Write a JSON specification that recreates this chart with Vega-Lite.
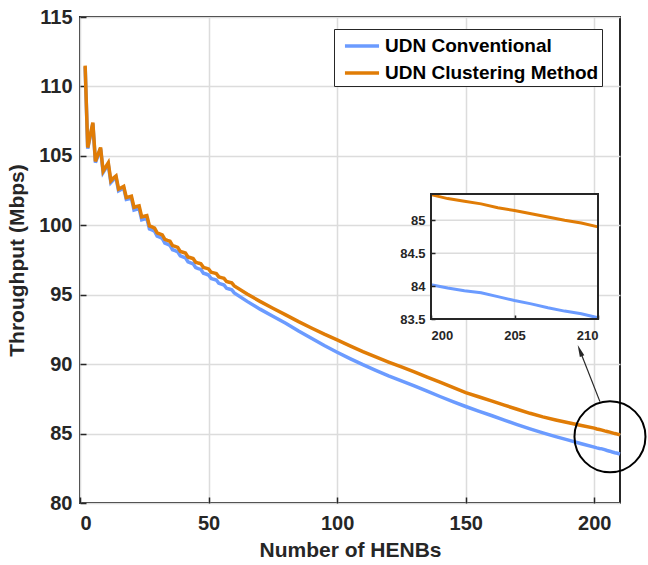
{
  "$schema": "https://vega.github.io/schema/vega-lite/v6.json",
  "autosize": {"type": "none"},
  "width": 540,
  "height": 486,
  "padding": {"left": 80, "top": 17, "right": 28, "bottom": 62},
  "background": "white",
  "config": {
    "font": "Liberation Sans",
    "view": {"stroke": "#262626", "strokeWidth": 2},
    "axis": {
      "labelFont": "Liberation Sans",
      "labelFontWeight": "bold",
      "labelColor": "#262626",
      "titleFont": "Liberation Sans",
      "titleColor": "#262626",
      "titleFontWeight": "bold",
      "tickColor": "#262626",
      "tickWidth": 1.5,
      "gridColor": "#dcdcdc",
      "gridWidth": 1.5
    }
  },
  "data": {
    "values": [
      {"x": 2, "UDN Conventional": 111.42, "UDN Clustering Method": 111.5},
      {"x": 3, "UDN Conventional": 105.52, "UDN Clustering Method": 105.6},
      {"x": 4, "UDN Conventional": 106.42, "UDN Clustering Method": 106.5},
      {"x": 5, "UDN Conventional": 107.32, "UDN Clustering Method": 107.4},
      {"x": 6, "UDN Conventional": 104.52, "UDN Clustering Method": 104.6},
      {"x": 7, "UDN Conventional": 105.02, "UDN Clustering Method": 105.1},
      {"x": 8, "UDN Conventional": 105.52, "UDN Clustering Method": 105.6},
      {"x": 9, "UDN Conventional": 103.8, "UDN Clustering Method": 103.9},
      {"x": 10, "UDN Conventional": 104.1, "UDN Clustering Method": 104.2},
      {"x": 11, "UDN Conventional": 104.38, "UDN Clustering Method": 104.5},
      {"x": 12, "UDN Conventional": 103.08, "UDN Clustering Method": 103.2},
      {"x": 13, "UDN Conventional": 103.28, "UDN Clustering Method": 103.4},
      {"x": 14, "UDN Conventional": 103.43, "UDN Clustering Method": 103.55},
      {"x": 15, "UDN Conventional": 102.48, "UDN Clustering Method": 102.6},
      {"x": 16, "UDN Conventional": 102.58, "UDN Clustering Method": 102.7},
      {"x": 17, "UDN Conventional": 102.68, "UDN Clustering Method": 102.8},
      {"x": 18, "UDN Conventional": 101.86, "UDN Clustering Method": 102.0},
      {"x": 19, "UDN Conventional": 101.91, "UDN Clustering Method": 102.05},
      {"x": 20, "UDN Conventional": 101.96, "UDN Clustering Method": 102.1},
      {"x": 21, "UDN Conventional": 101.1, "UDN Clustering Method": 101.3},
      {"x": 22, "UDN Conventional": 101.15, "UDN Clustering Method": 101.35},
      {"x": 23, "UDN Conventional": 101.2, "UDN Clustering Method": 101.4},
      {"x": 24, "UDN Conventional": 100.4, "UDN Clustering Method": 100.6},
      {"x": 25, "UDN Conventional": 100.45, "UDN Clustering Method": 100.65},
      {"x": 26, "UDN Conventional": 100.5, "UDN Clustering Method": 100.7},
      {"x": 27, "UDN Conventional": 99.74, "UDN Clustering Method": 99.95},
      {"x": 28, "UDN Conventional": 99.67, "UDN Clustering Method": 99.88},
      {"x": 29, "UDN Conventional": 99.58, "UDN Clustering Method": 99.8},
      {"x": 30, "UDN Conventional": 99.22, "UDN Clustering Method": 99.45},
      {"x": 31, "UDN Conventional": 99.14, "UDN Clustering Method": 99.38},
      {"x": 32, "UDN Conventional": 99.06, "UDN Clustering Method": 99.31},
      {"x": 33, "UDN Conventional": 98.72, "UDN Clustering Method": 98.98},
      {"x": 34, "UDN Conventional": 98.64, "UDN Clustering Method": 98.91},
      {"x": 35, "UDN Conventional": 98.56, "UDN Clustering Method": 98.85},
      {"x": 36, "UDN Conventional": 98.24, "UDN Clustering Method": 98.54},
      {"x": 37, "UDN Conventional": 98.17, "UDN Clustering Method": 98.48},
      {"x": 38, "UDN Conventional": 98.09, "UDN Clustering Method": 98.41},
      {"x": 39, "UDN Conventional": 97.8, "UDN Clustering Method": 98.12},
      {"x": 40, "UDN Conventional": 97.73, "UDN Clustering Method": 98.06},
      {"x": 41, "UDN Conventional": 97.66, "UDN Clustering Method": 98.0},
      {"x": 42, "UDN Conventional": 97.37, "UDN Clustering Method": 97.72},
      {"x": 43, "UDN Conventional": 97.3, "UDN Clustering Method": 97.66},
      {"x": 44, "UDN Conventional": 97.23, "UDN Clustering Method": 97.6},
      {"x": 45, "UDN Conventional": 96.95, "UDN Clustering Method": 97.34},
      {"x": 46, "UDN Conventional": 96.88, "UDN Clustering Method": 97.28},
      {"x": 47, "UDN Conventional": 96.82, "UDN Clustering Method": 97.23},
      {"x": 48, "UDN Conventional": 96.55, "UDN Clustering Method": 96.97},
      {"x": 49, "UDN Conventional": 96.49, "UDN Clustering Method": 96.92},
      {"x": 50, "UDN Conventional": 96.42, "UDN Clustering Method": 96.86},
      {"x": 51, "UDN Conventional": 96.17, "UDN Clustering Method": 96.62},
      {"x": 52, "UDN Conventional": 96.11, "UDN Clustering Method": 96.57},
      {"x": 53, "UDN Conventional": 96.06, "UDN Clustering Method": 96.52},
      {"x": 54, "UDN Conventional": 95.82, "UDN Clustering Method": 96.28},
      {"x": 55, "UDN Conventional": 95.76, "UDN Clustering Method": 96.23},
      {"x": 56, "UDN Conventional": 95.7, "UDN Clustering Method": 96.18},
      {"x": 57, "UDN Conventional": 95.46, "UDN Clustering Method": 95.95},
      {"x": 58, "UDN Conventional": 95.41, "UDN Clustering Method": 95.9},
      {"x": 59, "UDN Conventional": 95.36, "UDN Clustering Method": 95.85},
      {"x": 60, "UDN Conventional": 95.13, "UDN Clustering Method": 95.63},
      {"x": 65, "UDN Conventional": 94.52, "UDN Clustering Method": 95.05},
      {"x": 70, "UDN Conventional": 93.96, "UDN Clustering Method": 94.52},
      {"x": 75, "UDN Conventional": 93.45, "UDN Clustering Method": 94.03},
      {"x": 80, "UDN Conventional": 92.95, "UDN Clustering Method": 93.55},
      {"x": 85, "UDN Conventional": 92.39, "UDN Clustering Method": 93.06},
      {"x": 90, "UDN Conventional": 91.86, "UDN Clustering Method": 92.6},
      {"x": 95, "UDN Conventional": 91.34, "UDN Clustering Method": 92.16},
      {"x": 100, "UDN Conventional": 90.86, "UDN Clustering Method": 91.75},
      {"x": 105, "UDN Conventional": 90.4, "UDN Clustering Method": 91.32},
      {"x": 110, "UDN Conventional": 89.96, "UDN Clustering Method": 90.9},
      {"x": 115, "UDN Conventional": 89.55, "UDN Clustering Method": 90.52},
      {"x": 120, "UDN Conventional": 89.16, "UDN Clustering Method": 90.15},
      {"x": 125, "UDN Conventional": 88.8, "UDN Clustering Method": 89.8},
      {"x": 130, "UDN Conventional": 88.44, "UDN Clustering Method": 89.45},
      {"x": 135, "UDN Conventional": 88.05, "UDN Clustering Method": 89.07},
      {"x": 140, "UDN Conventional": 87.67, "UDN Clustering Method": 88.7},
      {"x": 145, "UDN Conventional": 87.3, "UDN Clustering Method": 88.32},
      {"x": 150, "UDN Conventional": 86.95, "UDN Clustering Method": 87.95},
      {"x": 155, "UDN Conventional": 86.62, "UDN Clustering Method": 87.65},
      {"x": 160, "UDN Conventional": 86.3, "UDN Clustering Method": 87.35},
      {"x": 165, "UDN Conventional": 85.97, "UDN Clustering Method": 87.05},
      {"x": 170, "UDN Conventional": 85.65, "UDN Clustering Method": 86.75},
      {"x": 175, "UDN Conventional": 85.34, "UDN Clustering Method": 86.46},
      {"x": 180, "UDN Conventional": 85.05, "UDN Clustering Method": 86.2},
      {"x": 185, "UDN Conventional": 84.78, "UDN Clustering Method": 85.98},
      {"x": 190, "UDN Conventional": 84.53, "UDN Clustering Method": 85.78},
      {"x": 195, "UDN Conventional": 84.27, "UDN Clustering Method": 85.58},
      {"x": 200, "UDN Conventional": 84.02, "UDN Clustering Method": 85.39},
      {"x": 201, "UDN Conventional": 83.97, "UDN Clustering Method": 85.33},
      {"x": 202, "UDN Conventional": 83.93, "UDN Clustering Method": 85.29},
      {"x": 203, "UDN Conventional": 83.9, "UDN Clustering Method": 85.25},
      {"x": 204, "UDN Conventional": 83.84, "UDN Clustering Method": 85.19},
      {"x": 205, "UDN Conventional": 83.78, "UDN Clustering Method": 85.15},
      {"x": 206, "UDN Conventional": 83.73, "UDN Clustering Method": 85.1},
      {"x": 207, "UDN Conventional": 83.67, "UDN Clustering Method": 85.05},
      {"x": 208, "UDN Conventional": 83.62, "UDN Clustering Method": 85.0},
      {"x": 209, "UDN Conventional": 83.58, "UDN Clustering Method": 84.96},
      {"x": 210, "UDN Conventional": 83.52, "UDN Clustering Method": 84.9}
    ]
  },
  "layer": [
    {
      "layer": [
        {
          "transform": [{"fold": ["UDN Conventional", "UDN Clustering Method"], "as": ["series", "throughput"]}],
          "mark": {"type": "line", "strokeWidth": 3.5},
          "encoding": {
            "x": {
              "field": "x", "type": "quantitative",
              "scale": {"domain": [0, 210], "nice": false},
              "axis": {
                "values": [0, 50, 100, 150, 200], "format": "d",
                "title": "Number of HENBs", "titleFontSize": 21, "titlePadding": 6,
                "labelFontSize": 20, "labelPadding": 10, "tickSize": 6, "offset": -6,
                "grid": true, "domain": false, "zindex": 0
              }
            },
            "y": {
              "field": "throughput", "type": "quantitative",
              "scale": {"domain": [80, 115], "nice": false, "zero": false},
              "axis": {
                "values": [80, 85, 90, 95, 100, 105, 110, 115], "format": "d",
                "title": "Throughput (Mbps)", "titleFontSize": 21, "titlePadding": 11,
                "labelFontSize": 20, "labelPadding": 8, "tickSize": 6, "offset": -6,
                "grid": true, "domain": false, "zindex": 0
              }
            },
            "color": {
              "field": "series", "type": "nominal",
              "scale": {"domain": ["UDN Conventional", "UDN Clustering Method"], "range": ["#6b9bff", "#e07c06"]},
              "legend": {
                "title": null, "orient": "none", "legendX": 254, "legendY": 12,
                "direction": "vertical", "symbolType": "M-1.42,0H1.42", "symbolSize": 576,
                "symbolOffset": 11, "symbolStrokeWidth": 3.5, "labelOffset": 9,
                "labelFontSize": 19, "labelFontWeight": "bold", "labelLimit": 400,
                "labelColor": "black", "labelFont": "Liberation Sans",
                "strokeColor": "#262626", "fillColor": "white",
                "padding": 3, "rowPadding": 3
              }
            }
          }
        },
        {
          "data": {"values": [{}]},
          "mark": {"type": "point", "shape": "circle", "size": 5041, "filled": false, "stroke": "black", "strokeWidth": 2, "opacity": 1},
          "encoding": {"x": {"datum": 206.1}, "y": {"datum": 84.77}}
        },
        {
          "data": {"values": [{}]},
          "mark": {"type": "rule", "stroke": "#262626", "strokeWidth": 1.2},
          "encoding": {"x": {"datum": 202.2}, "y": {"datum": 87.3}, "x2": {"datum": 194.4}, "y2": {"datum": 90.98}}
        },
        {
          "data": {"values": [{}]},
          "mark": {"type": "point", "shape": "M0,-1L0.4,1L-0.4,1Z", "size": 144, "filled": true, "color": "#262626", "angle": 338.5, "opacity": 1},
          "encoding": {"x": {"datum": 194.4}, "y": {"datum": 90.98}}
        }
      ]
    },
    {
      "layer": [
        {
          "data": {"values": [{}]},
          "mark": {"type": "rect", "fill": "white", "stroke": "#262626", "strokeWidth": 2},
          "encoding": {
            "x": {
              "datum": 200, "type": "quantitative",
              "scale": {"domain": [200, 210], "range": [351, 518], "nice": false, "zero": false},
              "axis": {
                "orient": "bottom", "offset": -188, "values": [200, 205, 210], "format": "d",
                "title": null, "grid": false, "domain": false, "tickSize": 4,
                "labelFontSize": 13, "labelPadding": 10, "zindex": 1
              }
            },
            "x2": {"datum": 210},
            "y": {
              "datum": 83.5, "type": "quantitative",
              "scale": {"domain": [83.5, 85.4], "range": [302, 177], "nice": false, "zero": false},
              "axis": {
                "orient": "left", "offset": -355, "values": [83.5, 84, 84.5, 85], "format": "~g",
                "title": null, "grid": false, "domain": false, "tickSize": 4,
                "labelFontSize": 13, "labelPadding": 6, "zindex": 1
              }
            },
            "y2": {"datum": 85.4}
          }
        },
        {
          "data": {"values": [{}]},
          "mark": {"type": "rule", "stroke": "#dcdcdc", "strokeWidth": 1.5},
          "encoding": {"x": {"datum": 205}, "y": {"datum": 83.5}, "y2": {"datum": 85.4}}
        },
        {
          "data": {"values": [{"g": 84}, {"g": 84.5}, {"g": 85}]},
          "mark": {"type": "rule", "stroke": "#dcdcdc", "strokeWidth": 1.5},
          "encoding": {"y": {"field": "g", "type": "quantitative"}, "x": {"datum": 200}, "x2": {"datum": 210}}
        },
        {
          "transform": [
            {"filter": "datum.x >= 200"},
            {"fold": ["UDN Conventional", "UDN Clustering Method"], "as": ["series", "throughput"]}
          ],
          "mark": {"type": "line", "strokeWidth": 3},
          "encoding": {
            "x": {"field": "x", "type": "quantitative"},
            "y": {"field": "throughput", "type": "quantitative"},
            "color": {"field": "series", "type": "nominal", "legend": null}
          }
        },
        {
          "data": {"values": [{}]},
          "mark": {"type": "rect", "fillOpacity": 0, "stroke": "#262626", "strokeWidth": 2},
          "encoding": {"x": {"datum": 200}, "x2": {"datum": 210}, "y": {"datum": 83.5}, "y2": {"datum": 85.4}}
        }
      ]
    }
  ],
  "resolve": {"scale": {"x": "independent", "y": "independent"}}
}
